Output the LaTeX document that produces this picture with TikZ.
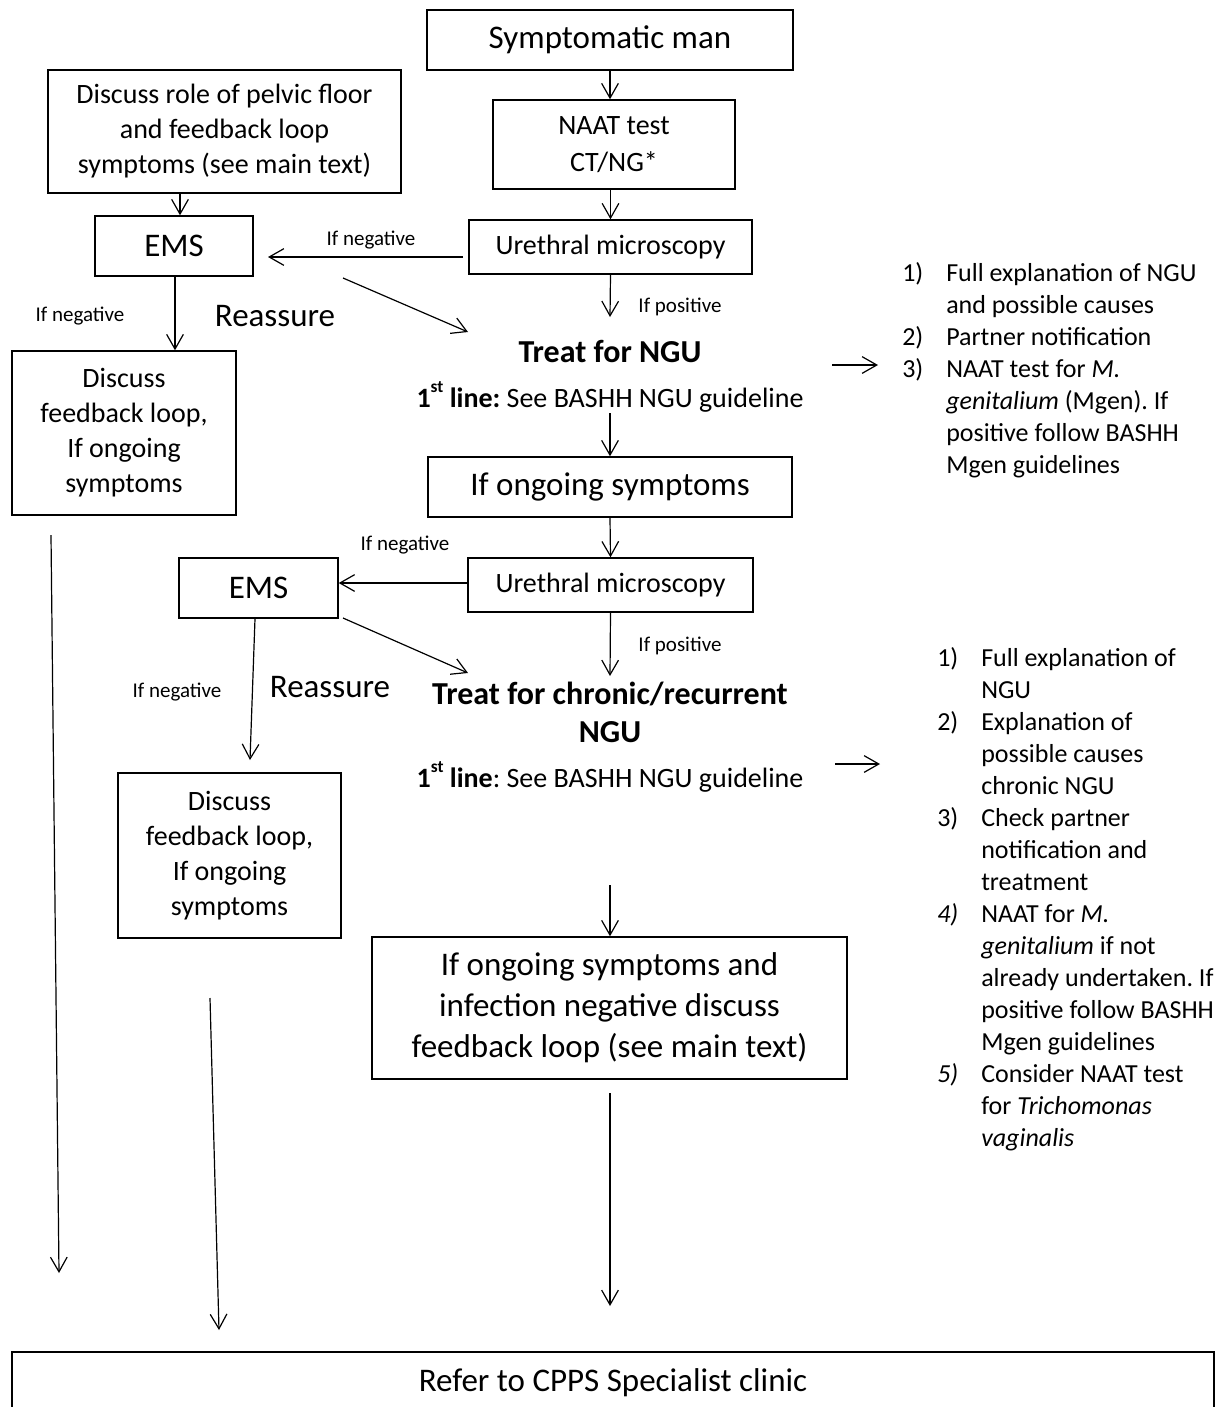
\documentclass[tikz,border=0pt]{standalone}
\usepackage{fontspec}
\setmainfont{Carlito}
\usetikzlibrary{arrows.meta}
\frenchspacing
\def\px{*0.75pt}
\newcommand\fntL{\fontsize{24.75pt}{30.75pt}\selectfont}
\newcommand\fntM{\fontsize{21pt}{26.25pt}\selectfont}
\newcommand\fntS{\fontsize{15.75pt}{19pt}\selectfont}
\newcommand\fntB{\fontsize{24pt}{28.5pt}\selectfont\bfseries}
\newcommand\fntList{\fontsize{19.5pt}{24pt}\selectfont}
\newcommand\supst{\raisebox{0.55em}{\fontsize{13pt}{13pt}\selectfont st}}
\begin{document}
\frenchspacing
\begin{tikzpicture}[x=0.75pt,y=-0.75pt,
  box/.style={draw,line width=1.1pt,inner sep=0pt,align=center},
  arr/.style={-{Straight Barb[length=11pt,width=12.5pt]},line width=0.9pt},
  txt/.style={inner sep=0pt,align=center}]
\useasboundingbox (0,0) rectangle (1218,1407);

% boxes
\node[box,font=\fntL,minimum width=366\px,minimum height=60\px] (sym) at (610,40) {Symptomatic man};
\node[box,font=\fntM,minimum width=242\px,minimum height=89\px] (naat) at (614,144.5) {NAAT test\\[1.5pt]CT/NG*};
\node[box,font=\fntM,minimum width=283\px,minimum height=54\px] (um1) at (610.5,247) {Urethral microscopy};
\node[box,font=\fntL,minimum width=158\px,minimum height=60\px] (ems1) at (174,246) {EMS};
\node[box,font=\fntM,minimum width=353\px,minimum height=123\px] (disc) at (224.5,131.5) {Discuss role of pelvic floor\\and feedback loop\\symptoms (see main text)};
\node[box,font=\fntM,minimum width=224\px,minimum height=164\px] (fb1) at (124,433) {Discuss\\feedback loop,\\If ongoing\\symptoms};
\node[txt,font=\fntB] (treat1) at (610,351) {Treat for NGU};
\node[txt,font=\fntM] (line1) at (610,397) {\textbf{1\supst\ line:} See BASHH NGU guideline};
\node[box,font=\fntL,minimum width=364\px,minimum height=60\px] (ong) at (610,487) {If ongoing symptoms};
\node[box,font=\fntM,minimum width=285\px,minimum height=54\px] (um2) at (610.5,585) {Urethral microscopy};
\node[box,font=\fntL,minimum width=159\px,minimum height=60\px] (ems2) at (258.5,588) {EMS};
\node[box,font=\fntM,minimum width=223\px,minimum height=165\px] (fb2) at (229.5,855.5) {Discuss\\feedback loop,\\If ongoing\\symptoms};
\node[txt,font=\fntB] (treat2) at (610,712) {Treat for chronic/recurrent\\NGU};
\node[txt,font=\fntM] (line2) at (610,777) {\textbf{1\supst\ line}: See BASHH NGU guideline};
\node[box,font=\fntL,minimum width=475\px,minimum height=142\px] (big) at (609.5,1008) {If ongoing symptoms and\\infection negative discuss\\feedback loop (see main text)};
\node[box,font=\fntL,minimum width=1202\px,minimum height=62\px] (refer) at (613,1383) {Refer to CPPS Specialist clinic};

% labels
\node[txt,font=\fntS] (neg1) at (371,240) {If negative};
\node[txt,font=\fntS] (neg2) at (80,316) {If negative};
\node[txt,font=\fntL] (re1) at (275,316) {Reassure};
\node[txt,font=\fntS] (pos1) at (680,307) {If positive};
\node[txt,font=\fntS] (neg3) at (405,545) {If negative};
\node[txt,font=\fntS] (neg4) at (177,692) {If negative};
\node[txt,font=\fntL] (re2) at (330,687) {Reassure};
\node[txt,font=\fntS] (pos2) at (680,646) {If positive};

% lists
\node[anchor=base west,inner sep=0pt,font=\fntList] (list1) at (902,281) {%
\begin{tabular}[t]{@{}p{33pt}@{}l@{}}
1) & Full explanation of NGU\\
   & and possible causes\\
2) & Partner notification\\
3) & NAAT test for \textit{M.}\\
   & \textit{genitalium} (Mgen). If\\
   & positive follow BASHH\\
   & Mgen guidelines
\end{tabular}};
\node[anchor=base west,inner sep=0pt,font=\fntList] (list2) at (937,666) {%
\begin{tabular}[t]{@{}p{33pt}@{}l@{}}
1) & Full explanation of\\
   & NGU\\
2) & Explanation of\\
   & possible causes\\
   & chronic NGU\\
3) & Check partner\\
   & notification and\\
   & treatment\\
\textit{4)} & NAAT for \textit{M.}\\
   & \textit{genitalium} if not\\
   & already undertaken. If\\
   & positive follow BASHH\\
   & Mgen guidelines\\
\textit{5)} & Consider NAAT test\\
   & for \textit{Trichomonas}\\
   & \textit{vaginalis}
\end{tabular}};

% free-end coordinates
\coordinate (n1s) at (463,257);
\coordinate (n1e) at (268,257);
\coordinate (d1s) at (343,278);
\coordinate (d1e) at (468,332);
\coordinate (p1e) at (610,317);
\coordinate (r1s) at (832,365);
\coordinate (r1e) at (878,365);
\coordinate (o1s) at (610,413);
\coordinate (e2e) at (250,760);
\coordinate (d2s) at (343,618);
\coordinate (d2e) at (468,673);
\coordinate (p2e) at (610,676);
\coordinate (r2s) at (835,764);
\coordinate (r2e) at (880,764);
\coordinate (b1s) at (610,885);
\coordinate (l1s) at (51,535);
\coordinate (l1e) at (59,1273);
\coordinate (l2s) at (210,998);
\coordinate (l2e) at (219,1330);
\coordinate (l3s) at (610,1093);
\coordinate (l3e) at (610,1306);

% connectors
\draw[arr] (sym.south) -- (sym.south |- naat.north);
\draw[arr] (um1.north |- naat.south) -- (um1.north);
\draw[arr] (n1s) -- (n1e);
\draw[arr] (disc.south -| 180,0) -- (ems1.north -| 180,0);
\draw[arr] (ems1.south -| 175,0) -- (fb1.north -| 175,0);
\draw[arr] (d1s) -- (d1e);
\draw[arr] (um1.south) -- (p1e);
\draw[arr] (r1s) -- (r1e);
\draw[arr] (o1s) -- (ong.north);
\draw[arr] (ong.south) -- (um2.north);
\draw[arr] (um2.west |- 0,583) -- (ems2.east |- 0,583);
\draw[arr] (ems2.south -| 255,0) -- (e2e);
\draw[arr] (d2s) -- (d2e);
\draw[arr] (um2.south) -- (p2e);
\draw[arr] (r2s) -- (r2e);
\draw[arr] (b1s) -- (big.north -| b1s);
\draw[arr] (l1s) -- (l1e);
\draw[arr] (l2s) -- (l2e);
\draw[arr] (l3s) -- (l3e);
\end{tikzpicture}
\end{document}
